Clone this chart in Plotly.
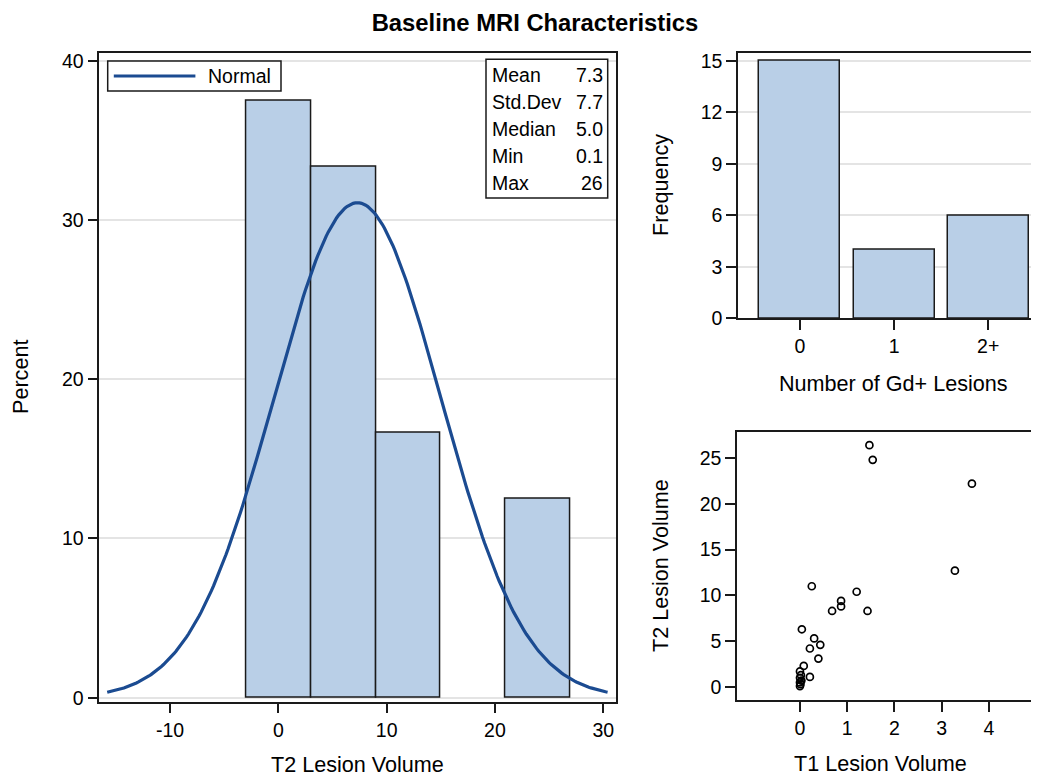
import numpy as np
import plotly.graph_objects as go

# ---------------- data ----------------
t1_volume = [1.47, 1.54, 3.64, 3.28, 0.25, 1.20, 0.87, 0.87, 0.68, 1.43, 0.04, 0.30,
             0.43, 0.21, 0.39, 0.08, 0.21, 0.00, 0.02, 0.00, 0.03, 0.00, 0.01, 0.00]
t2_volume = [26.4, 24.8, 22.2, 12.7, 11.0, 10.4, 9.4, 8.8, 8.3, 8.3, 6.3, 5.3,
             4.6, 4.2, 3.1, 2.3, 1.1, 1.7, 1.3, 1.0, 0.7, 0.5, 0.3, 0.1]
gd_categories = ["0", "1", "2+"]
gd_counts = [15, 4, 6]
stat_labels = ["Mean", "Std.Dev", "Median", "Min", "Max"]
stat_values = ["7.3", "7.7", "5.0", "0.1", "26"]
hist_tickvals = [-10, 0, 10, 20, 30]
hist_ticktext = ["-10", "0", "10", "20", "30"]
fit_mean = 7.3
fit_sd = 7.7
bin_start = -3
bin_width = 6

# ---------------- style ----------------
PAGE_OFF = 8          # default body margin of the html page
W, H = 1039 - PAGE_OFF, 776 - PAGE_OFF
FONT = "Liberation Sans, Arial, sans-serif"
TXT = "#000000"
LINE = "#1a1a1a"
FILL = "#B9CFE7"
FIT = "#1B4B91"
GRID = "#E4E4E4"
TICK_FS = 19.5
LABEL_FS = 21.6


def px(x):
    return (x - PAGE_OFF) / W


def py(y):
    return 1 - (y - PAGE_OFF) / H


fig = go.Figure()

# histogram (percent)
fig.add_trace(go.Histogram(
    x=t2_volume, histnorm="percent",
    xbins=dict(start=bin_start, end=bin_start + 5 * bin_width, size=bin_width),
    marker=dict(color=FILL, line=dict(color=LINE, width=1.5)),
    xaxis="x", yaxis="y", showlegend=False, hoverinfo="skip"))

# normal fit curve derived from the reported mean / std.dev
xs = np.linspace(fit_mean - 3 * fit_sd, fit_mean + 3 * fit_sd, 241)
ys = 100 * bin_width * np.exp(-0.5 * ((xs - fit_mean) / fit_sd) ** 2) / (fit_sd * np.sqrt(2 * np.pi))
fig.add_trace(go.Scatter(x=xs, y=ys, mode="lines", name="Normal",
                         line=dict(color=FIT, width=3.2),
                         xaxis="x", yaxis="y", showlegend=False))

# bar chart of Gd+ lesions
fig.add_trace(go.Bar(x=gd_categories, y=gd_counts, width=0.86,
                     marker=dict(color=FILL, line=dict(color=LINE, width=1.5)),
                     xaxis="x2", yaxis="y2", showlegend=False))

# scatter T1 vs T2
fig.add_trace(go.Scatter(x=t1_volume, y=t2_volume, mode="markers",
                         marker=dict(symbol="circle-open", size=7, color="#000",
                                     line=dict(width=1.7, color="#000")),
                         xaxis="x3", yaxis="y3", showlegend=False))

tickfont = dict(family=FONT, size=TICK_FS, color=TXT)
common = dict(showline=True, linecolor=LINE, linewidth=1.5, ticks="outside",
              ticklen=10, tickwidth=1.5, tickcolor=LINE, tickfont=tickfont,
              zeroline=False, automargin=False, fixedrange=True)

fig.update_layout(
    width=W, height=H,
    margin=dict(l=0, r=0, t=0, b=0),
    paper_bgcolor="white", plot_bgcolor="white",
    bargap=0,
    font=dict(family=FONT, color=TXT),
    title=dict(text="Baseline MRI Characteristics", x=px(535), y=py(23),
               xanchor="center", yanchor="middle", xref="paper", yref="paper",
               font=dict(family=FONT, size=23.8, color=TXT, weight="bold")),
    xaxis=dict(domain=[px(99.3), px(615.7)], range=[-16.53, 31.15],
               tickvals=hist_tickvals, ticktext=hist_ticktext, mirror=True,
               showgrid=False, anchor="y", **common),
    yaxis=dict(domain=[py(701.7), py(52.7)], range=[-0.25, 40.51],
               tickvals=[0, 10, 20, 30, 40], mirror=True, showgrid=True,
               gridcolor=GRID, gridwidth=1.5, anchor="x", **common),
    xaxis2=dict(domain=[px(738), 1.0], range=[-0.658, 2.54], type="category",
                mirror=True, showgrid=False, anchor="y2", **common),
    yaxis2=dict(domain=[py(318.3), py(52.7)], range=[0, 15.47],
                tickvals=[0, 3, 6, 9, 12, 15], showgrid=True, gridcolor=GRID,
                gridwidth=1.5, anchor="x2", **common),
    xaxis3=dict(domain=[px(737), 1.0], range=[-1.333, 5.06],
                tickvals=[0, 1, 2, 3, 4], mirror=True, showgrid=False,
                anchor="y3", **common),
    yaxis3=dict(domain=[py(700), py(431.7)], range=[-1.42, 27.87],
                tickvals=[0, 5, 10, 15, 20, 25], showgrid=False,
                anchor="x3", **common),
)

annotations = []
shapes = []


def label(text, x, y, angle=0, size=LABEL_FS, xanchor="center"):
    annotations.append(dict(text=text, x=px(x), y=py(y), xref="paper", yref="paper",
                            showarrow=False, textangle=angle, xanchor=xanchor,
                            yanchor="middle",
                            font=dict(family=FONT, size=size, color=TXT)))


# axis titles
label("T2 Lesion Volume", 357, 764)
label("Percent", 20, 377, angle=-90)
label("Frequency", 660, 185, angle=-90)
label("Number of Gd+ Lesions", 893, 383)
label("T2 Lesion Volume", 660, 566, angle=-90)
label("T1 Lesion Volume", 880, 763)

# legend box (Normal)
shapes.append(dict(type="rect", xref="paper", yref="paper",
                   x0=px(107.7), x1=px(281), y0=py(91), y1=py(61),
                   line=dict(color=LINE, width=1.5), fillcolor="white"))
shapes.append(dict(type="line", xref="paper", yref="paper",
                   x0=px(113.8), x1=px(195.4), y0=py(76), y1=py(76),
                   line=dict(color=FIT, width=3.2)))
label("Normal", 206, 76, size=TICK_FS, xanchor="left")

# statistics inset box
shapes.append(dict(type="rect", xref="paper", yref="paper",
                   x0=px(486), x1=px(607.7), y0=py(198), y1=py(59.3),
                   line=dict(color=LINE, width=1.5), fillcolor="white"))
for i, (lab, val) in enumerate(zip(stat_labels, stat_values)):
    yy = 75 + 27 * i
    label(lab, 490, yy, size=TICK_FS, xanchor="left")
    label(val, 605, yy, size=TICK_FS, xanchor="right")

fig.update_layout(annotations=annotations, shapes=shapes)

fig.write_html("out.html")
